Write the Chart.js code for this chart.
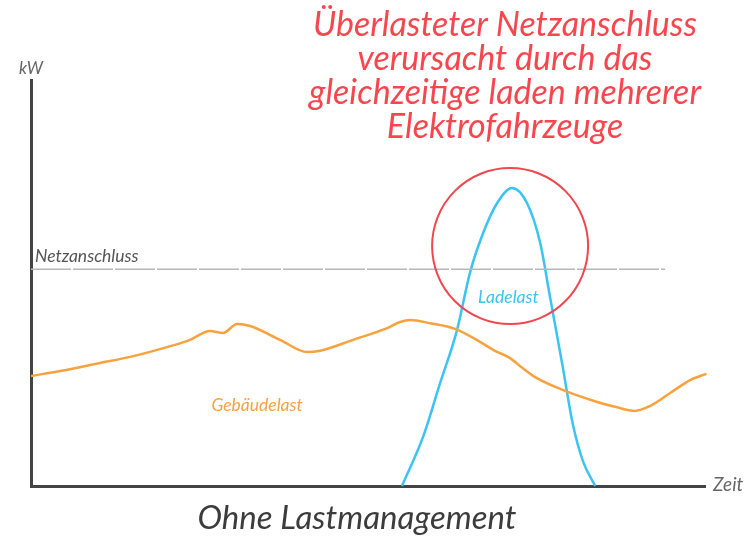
<!DOCTYPE html>
<html>
<head>
<meta charset="utf-8">
<style>
  html, body { margin: 0; padding: 0; background: #fff; }
  #wrap { width: 753px; height: 542px; }
</style>
</head>
<body>
<div id="wrap"><canvas id="lastChart" width="753" height="542"></canvas></div>
<script src="https://cdn.jsdelivr.net/npm/chart.js"></script>
<script>
    // Zeit in Stunden, Last in kW
    const gebaeudeZeit = [0, 1.03, 2.46, 3.53, 4.84, 5.66, 6.37, 6.84, 7.34, 7.8, 8.87, 9.83, 10.29, 11.47, 12.68, 13.14, 13.5, 14.21, 15.1, 15.99, 16.52, 17.06, 17.49, 17.95, 18.95, 20.16, 20.8, 21.51, 22.04, 22.76, 23.47, 24.05];
    const gebaeudeLast = [2.71, 2.83, 3.03, 3.18, 3.42, 3.6, 3.82, 3.77, 3.99, 3.94, 3.6, 3.3, 3.33, 3.6, 3.89, 4.04, 4.09, 4.01, 3.87, 3.55, 3.33, 3.15, 2.91, 2.68, 2.36, 2.07, 1.95, 1.85, 1.97, 2.29, 2.61, 2.76];

    const ladeZeit = [13.21, 13.96, 14.57, 15.17, 15.63, 16.1, 16.6, 17.13, 17.66, 18.13, 18.48, 18.91, 19.3, 19.66, 20.09];
    const ladeLast = [0, 1.21, 2.54, 3.84, 5.25, 6.23, 6.97, 7.34, 6.97, 5.99, 4.66, 3.03, 1.5, 0.6, 0];

    const netzanschluss = 5.34;
    const netzZeit = [0, 22.58];

    // Markierung der Überlast (Mitte in Daten, Radius in px)
    const kreisMitte = [17.06, 5.91];
    const kreisRadius = 78;

    const titelZeilen = ['Überlasteter Netzanschluss', 'verursacht durch das', 'gleichzeitige laden mehrerer', 'Elektrofahrzeuge'];

    const FONT = '"Lato", "Open Sans", sans-serif';

    const textPlugin = {
        id: 'texte',
        afterDraw(chart) {
            const c = chart.ctx;
            const xs = chart.scales.x, ys = chart.scales.y;
            c.save();

            // Kreis
            c.strokeStyle = '#f0474f';
            c.lineWidth = 2;
            c.beginPath();
            c.arc(xs.getPixelForValue(kreisMitte[0]), ys.getPixelForValue(kreisMitte[1]), kreisRadius, 0, Math.PI * 2);
            c.stroke();

            c.textBaseline = 'alphabetic';

            // Titel
            c.fillStyle = '#f8464f';
            c.font = 'italic 34px ' + FONT;
            c.textAlign = 'center';
            titelZeilen.forEach((z, i) => c.fillText(z, 505, 36 + i * 34));

            // Untertitel
            c.fillStyle = '#3c3c3c';
            c.font = 'italic 33px ' + FONT;
            c.fillText('Ohne Lastmanagement', 357, 529);

            // Achsen
            c.fillStyle = '#666';
            c.font = 'italic 17px ' + FONT;
            c.fillText('kW', xs.left, ys.top - 6);
            c.textAlign = 'left';
            c.font = 'italic 19px ' + FONT;
            c.fillText('Zeit', xs.right + 8, ys.bottom + 5);

            c.font = 'italic 17.5px ' + FONT;
            c.fillStyle = '#555';
            c.fillText('Netzanschluss', xs.left + 4, ys.getPixelForValue(netzanschluss) - 7);

            c.textAlign = 'center';
            c.fillStyle = '#3cc3f2';
            c.fillText('Ladelast', xs.getPixelForValue(17.0), ys.getPixelForValue(4.5));
            c.fillStyle = '#f8a23f';
            c.fillText('Gebäudelast', xs.getPixelForValue(8.05), ys.getPixelForValue(1.84));
            c.restore();
        }
    };

    const toXY = (xs, ys) => xs.map((x, i) => ({x: x, y: ys[i]}));

    new Chart(document.getElementById('lastChart'), {
        type: 'line',
        data: {
            datasets: [
                {
                    label: 'Netzanschluss',
                    data: netzZeit.map(x => ({x: x, y: netzanschluss})),
                    borderColor: '#b8b8b8',
                    borderWidth: 1.5,
                    borderDash: [40, 2],
                    pointRadius: 0
                },
                {
                    label: 'Gebäudelast',
                    data: toXY(gebaeudeZeit, gebaeudeLast),
                    borderColor: '#f8a23f',
                    borderWidth: 2.5,
                    cubicInterpolationMode: 'monotone',
                    pointRadius: 0
                },
                {
                    label: 'Ladelast',
                    data: toXY(ladeZeit, ladeLast),
                    borderColor: '#3cc3f2',
                    borderWidth: 2.5,
                    cubicInterpolationMode: 'monotone',
                    pointRadius: 0
                }
            ]
        },
        options: {
            responsive: false,
            animation: false,
            clip: false,
            layout: { padding: { left: 23, right: 48, top: 80, bottom: 48 } },
            plugins: { legend: { display: false }, tooltip: { enabled: false } },
            scales: {
                x: {
                    type: 'linear', min: 0, max: 24,
                    grid: { display: false },
                    border: { color: '#444', width: 3 },
                    ticks: { display: false }
                },
                y: {
                    min: 0, max: 10,
                    grid: { display: false },
                    border: { color: '#444', width: 3 },
                    ticks: { display: false }
                }
            }
        },
        plugins: [textPlugin]
    });
</script>
</body>
</html>
